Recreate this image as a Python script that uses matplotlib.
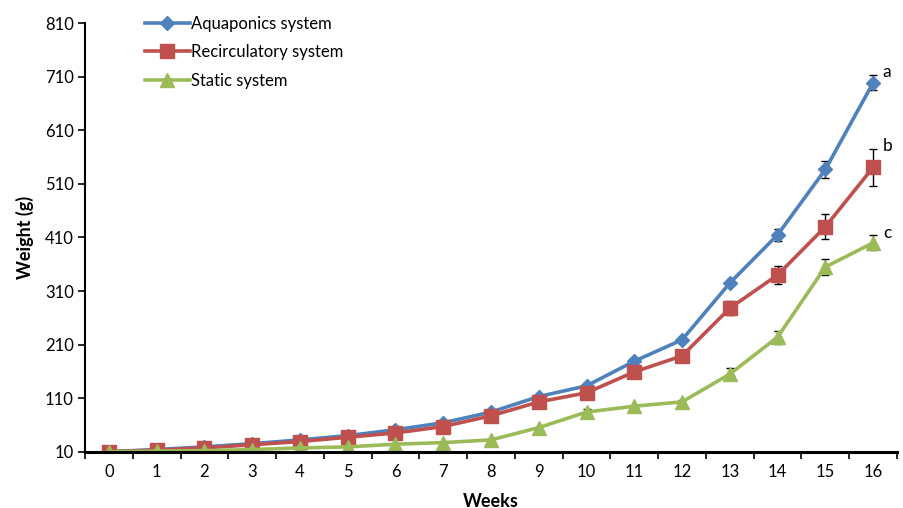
import matplotlib
matplotlib.use("Agg")
import matplotlib.pyplot as plt
import numpy as np

weeks = list(range(17))
aquaponics = [10, 14, 19, 25, 32, 40, 51, 64, 84, 113, 133, 179, 219, 325, 415, 537, 699]
recirculatory = [10, 13, 17, 23, 29, 37, 45, 57, 77, 103, 120, 159, 189, 278, 340, 430, 541]
static = [10, 11, 12, 14, 17, 19, 24, 27, 32, 55, 84, 95, 103, 155, 224, 355, 400]
aqua_err = [0, 0, 0, 0, 0, 0, 0, 0, 0, 0, 0, 0, 0, 4, 11, 15, 14]
recirc_err = [0, 0, 0, 0, 0, 0, 0, 0, 0, 0, 0, 0, 0, 13, 17, 23, 35]
static_err = [0, 0, 0, 0, 0, 0, 0, 0, 0, 0, 5, 0, 4, 12, 12, 15, 14]
series_names = ["Aquaponics system", "Recirculatory system", "Static system"]
letters = ["a", "b", "c"]
y_ticks = [10, 110, 210, 310, 410, 510, 610, 710, 810]

plt.rcParams['font.family'] = ['Lato', 'DejaVu Sans']

fig = plt.figure(figsize=(9.04, 5.08), dpi=100)
ax = fig.add_axes([85/904, 1-451.7/508, (897-85)/904, (451.7-23.3)/508])

colors = ["#4F81BD", "#C0504D", "#9BBB59"]
markers = ["D", "s", "^"]
msizes = [7.5, 9.5, 10]
data = [aquaponics, recirculatory, static]
errs = [aqua_err, recirc_err, static_err]

for vals, err, c, m, ms, name in zip(data, errs, colors, markers, msizes, series_names):
    e = np.array(err, dtype=float)
    v = np.array(vals, dtype=float)
    mask = e > 0
    ax.errorbar(np.array(weeks)[mask], v[mask], yerr=e[mask], fmt='none',
                ecolor='black', elinewidth=1.0, capsize=3, capthick=1.0, zorder=2)
    ax.plot(weeks, vals, color=c, lw=2.6, marker=m, markersize=ms,
            markerfacecolor=c, markeredgecolor=c, label=name, zorder=3)

for vals, err, letter in zip(data, errs, letters):
    ax.annotate(letter, xy=(weeks[-1], vals[-1] + err[-1]), xytext=(7, 2),
                textcoords='offset points', fontsize=12.5, ha='left', va='center')

ax.set_xlim(-0.5, 16.5)
ax.set_ylim(10, 810)
ax.set_yticks(y_ticks)
ax.set_yticklabels([str(t) for t in y_ticks])
ax.set_xticks(weeks)
ax.set_xticklabels([str(w) for w in weeks])
ax.set_xticks(np.arange(-0.5, 17, 1), minor=True)
ax.tick_params(axis='x', which='major', length=0, pad=9, labelsize=12)
ax.tick_params(axis='x', which='minor', length=5, width=1.2, direction='out')
ax.tick_params(axis='y', which='major', length=5, width=1.2, direction='out', labelsize=12, pad=3)

for s in ['top', 'right']:
    ax.spines[s].set_visible(False)
ax.spines['left'].set_linewidth(1.5)
ax.spines['bottom'].set_linewidth(2.2)
ax.spines['bottom'].set_zorder(4)

ax.set_xlabel("Weeks", fontsize=13, fontweight='bold', labelpad=9)
ax.set_ylabel("Weight (g)", fontsize=13, fontweight='bold', labelpad=8)

leg = ax.legend(loc='upper left', bbox_to_anchor=(138/904, 1-9/508), bbox_transform=fig.transFigure,
                frameon=False, fontsize=12, handlelength=2.7, handletextpad=0.1,
                labelspacing=0.75, borderaxespad=0)

fig.savefig("out.png", dpi=100)
